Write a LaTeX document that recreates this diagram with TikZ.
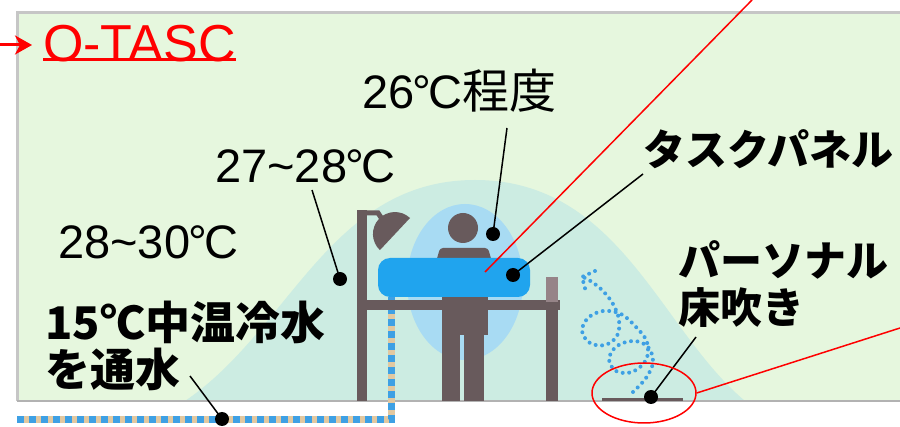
\documentclass[tikz,border=0pt]{standalone}
\usepackage{fontspec}
\setmainfont{Liberation Sans}
\newfontfamily\jp{Noto Sans CJK JP}
\usetikzlibrary{arrows.meta,shapes.geometric}

\definecolor{wallgreen}{RGB}{230,247,222}
\definecolor{zonecyan}{RGB}{204,236,226}
\definecolor{bubble}{RGB}{168,219,243}
\definecolor{panelblue}{RGB}{32,164,238}
\definecolor{furngray}{RGB}{104,90,92}
\definecolor{furnlight}{RGB}{150,132,136}
\definecolor{swirlblue}{RGB}{62,160,228}
\definecolor{pipetan}{RGB}{226,200,160}

\newcommand\degC{\kern-0.04em°\kern-0.06em C}

\begin{document}
\begin{tikzpicture}[x=1pt,y=-1pt,>=Stealth,
  lead/.style={line width=1.5pt},
  redlead/.style={line width=1.5pt,red},
  tipdot/.style={circle,fill=black,inner sep=0pt,minimum size=14pt},
  temp/.style={font=\fontsize{47}{50}\selectfont,inner sep=0pt},
  tag/.style={font=\jp\bfseries\fontsize{42}{47}\selectfont,inner sep=0pt,align=left},
  pipe/.style={line width=7pt},
  airflow/.style={swirlblue,line width=4pt,line cap=round,dash pattern=on 0pt off 6.5pt}]
  \useasboundingbox (0,0) rectangle (900,427);

  % room
  \fill[wallgreen] (17,13) rectangle (900,401);
  \draw[gray!45,line width=3pt] (17,401) -- (17,13) -- (900,13);
  \fill[zonecyan] (185,401) .. controls (290,330) and (330,180) .. (475,180)
    .. controls (620,180) and (660,330) .. (745,401) -- cycle;
  \fill[bubble] (465,282) ellipse[x radius=58,y radius=78];
  \draw[gray!60,line width=1.5pt] (17,401) -- (900,401);

  % chilled water pipe
  \draw[pipe,pipetan] (17,420) -- (391,420) -- (391,297);
  \draw[pipe,swirlblue,dash pattern=on 7pt off 5pt] (17,420) -- (391,420) -- (391,297);

  % lamp and desk
  \fill[furngray] (357,210) rectangle (367,401);
  \draw[furngray,line width=5pt] (362,213) -- (378,213) -- (384,222);
  \fill[furngray] (380,250) -- (410,218) arc[start angle=-46.8,end angle=-226.8,radius=22] -- cycle;
  \fill[furngray] (357,300) rectangle (560,310);
  \fill[furnlight] (546,277) rectangle (558,302);
  \fill[furngray] (546,302) rectangle (558,401);

  % worker
  \fill[furngray] (463,228) circle[radius=15];
  \fill[furngray,rounded corners=3pt] (436,262) -- (440,248) -- (488,248) -- (492,262) -- cycle;
  \fill[furngray] (442,297) rectangle (488,335);
  \fill[furngray] (442,330) rectangle (460,401);
  \fill[furngray] (464,330) rectangle (484,401);
  \node[fill=panelblue,rounded corners=12pt,minimum width=152pt,minimum height=39pt,inner sep=0pt]
    (tpanel) at (454,277.5) {};

  % floor outlet and its air
  \draw[furngray,line width=3pt] (602,400) -- (683,400);
  \draw[airflow] plot[smooth,tension=0.6] coordinates {
    (633,392) (646,378) (653,362) (648,347) (634,341) (617,346) (609,359)
    (616,371) (632,372) (646,360) (647,342) (636,327) (621,314) (603,311)
    (588,318) (582,331) (590,343) (605,345) (617,336) (619,320) (613,304)
    (603,291) (592,282) (583,277)};
  \draw[airflow] (595,271) -- (582,277) -- (586,292);

  % labels
  \node[anchor=base west,inner sep=0pt,red,font=\fontsize{52}{56}\selectfont] (otasc) at (43,62) {O-TASC};
  \draw[red,line width=3pt] ([yshift=3pt]otasc.south west) -- ([yshift=3pt]otasc.south east);
  \coordinate (arrtail) at (0,45);
  \draw[red,line width=3pt,-{Stealth[length=17pt,width=19pt,inset=5pt]},shorten >=11pt] (arrtail) -- (otasc.west |- arrtail);

  \node[temp,anchor=base west] (t26) at (362,109) {26\degC{\jp 程度}};
  \node[temp,anchor=base west] (t27) at (215,183) {27\textasciitilde28\degC};
  \node[temp,anchor=base west] (t28) at (58,259) {28\textasciitilde30\degC};
  \node[tag,anchor=west] (lpanel) at (643,149) {タスクパネル};
  \node[tag,anchor=west] (lfloor) at (678,284) {パーソナル\\床吹き};
  \node[tag,anchor=west,font=\jp\bfseries\fontsize{45}{47}\selectfont] (lwater) at (45,346) {15℃中温冷水\\を通水};

  % leaders
  \node[tipdot] (d26) at (493,234) {};
  \node[tipdot] (d27) at (340,279) {};
  \node[tipdot] (dpanel) at (513,275) {};
  \node[tipdot] (dfloor) at (651,397) {};
  \node[tipdot] (dwater) at (222,419) {};
  \coordinate (a26) at (507,128);
  \coordinate (a27) at (312,190);
  \coordinate (apanel) at (643,174);
  \coordinate (afloor) at (696,337);
  \coordinate (awater) at (190,376);
  \draw[lead] (a26) -- (d26.center);
  \draw[lead] (a27) -- (d27.center);
  \draw[lead] (apanel) -- (dpanel.center);
  \draw[lead] (afloor) -- (dfloor.center);
  \draw[lead] (awater) -- (dwater.center);

  % red callouts
  \node[draw=red,line width=1.5pt,ellipse,minimum width=104pt,minimum height=60pt] (ring) at (644,393) {};
  \coordinate (rpanel) at (485,272);
  \coordinate (rtop) at (752,0);
  \coordinate (rright) at (900,328);
  \draw[redlead] (rpanel) -- (rtop);
  \draw[redlead] (ring.east) -- (rright);
\end{tikzpicture}
\end{document}
